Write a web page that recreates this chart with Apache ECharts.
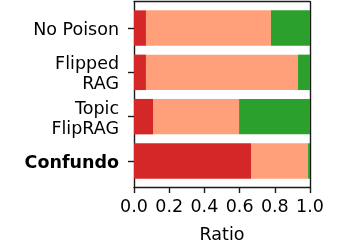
<!DOCTYPE html>
<html>
<head>
<meta charset="utf-8">
<script src="https://cdn.jsdelivr.net/npm/echarts@6/dist/echarts.min.js"></script>
<style>html,body{margin:0;padding:0;background:#fff;}#c{width:345px;height:243px;}</style>
</head>
<body>
<div id="c"></div>
<script>
const categories = ['No Poison', 'Flipped\nRAG', 'Topic\nFlipRAG', 'Confundo'];
const redValues = [0.068, 0.068, 0.108, 0.665];
const salmonValues = [0.710, 0.864, 0.489, 0.324];
const greenValues = [0.222, 0.068, 0.403, 0.011];
const xTickValues = [0.0, 0.2, 0.4, 0.6, 0.8, 1.0];
const xAxisName = 'Ratio';

const FONT = 'DejaVu Sans';
const FS = 17.5;
const SPINE = '#1a1a1a';
const LW = 1.4;

const chart = echarts.init(document.getElementById('c'), null, {renderer: 'canvas'});
chart.setOption({
  animation: false,
  backgroundColor: '#fff',
  textStyle: {fontFamily: FONT},
  grid: [
    {left: 134, right: 35, top: 5.9, height: 177.2, containLabel: false, outerBoundsMode: 'none'},
    {left: 134, right: 35, top: 1.7, bottom: 56, containLabel: false, outerBoundsMode: 'none'}
  ],
  xAxis: [
    {gridIndex: 0, type: 'value', min: 0, max: 1, show: false},
    {
      gridIndex: 1, type: 'value', min: 0, max: 1, interval: 0.2, position: 'bottom',
      axisLine: {show: true, onZero: false, lineStyle: {color: SPINE, width: LW}},
      axisTick: {show: true, length: 6, lineStyle: {color: SPINE, width: LW}},
      axisLabel: {show: true, margin: 11, fontSize: FS, fontFamily: FONT, color: '#000',
        formatter: v => (xTickValues.some(t => Math.abs(t - v) < 1e-9) ? v.toFixed(1) : '')},
      splitLine: {show: false},
      name: xAxisName, nameLocation: 'middle', nameGap: 48, nameMoveOverlap: false,
      nameTextStyle: {fontSize: FS, fontFamily: FONT, color: '#000', verticalAlign: 'middle'}
    },
    {
      gridIndex: 1, type: 'value', min: 0, max: 1, position: 'top',
      axisLine: {show: true, onZero: false, lineStyle: {color: SPINE, width: LW}},
      axisTick: {show: false}, axisLabel: {show: false}, splitLine: {show: false}
    }
  ],
  yAxis: [
    {
      gridIndex: 0, type: 'category', data: categories, inverse: true,
      axisLine: {show: false},
      axisTick: {show: true, alignWithLabel: true, length: 6, lineStyle: {color: SPINE, width: LW}},
      axisLabel: {
        show: true, margin: 15, fontSize: FS, fontFamily: FONT, color: '#000', lineHeight: 20,
        padding: [5, 0, 0, 0],
        formatter: v => (v === 'Confundo' ? '{b|' + v + '}' : v),
        rich: {b: {fontWeight: 'bold', fontSize: FS, fontFamily: FONT, color: '#000'}}
      },
      splitLine: {show: false}
    },
    {
      gridIndex: 1, type: 'value', min: 0, max: 1, position: 'left',
      axisLine: {show: true, onZero: false, lineStyle: {color: SPINE, width: LW}},
      axisTick: {show: false}, axisLabel: {show: false}, splitLine: {show: false}
    },
    {
      gridIndex: 1, type: 'value', min: 0, max: 1, position: 'right',
      axisLine: {show: true, onZero: false, lineStyle: {color: SPINE, width: LW}},
      axisTick: {show: false}, axisLabel: {show: false}, splitLine: {show: false}
    }
  ],
  series: [
    {type: 'bar', xAxisIndex: 0, yAxisIndex: 0, stack: 's', data: redValues, barWidth: '80%',
     itemStyle: {color: '#d62728'}, emphasis: {disabled: true}},
    {type: 'bar', xAxisIndex: 0, yAxisIndex: 0, stack: 's', data: salmonValues, barWidth: '80%',
     itemStyle: {color: '#ffa07a'}, emphasis: {disabled: true}},
    {type: 'bar', xAxisIndex: 0, yAxisIndex: 0, stack: 's', data: greenValues, barWidth: '80%',
     itemStyle: {color: '#2ca02c'}, emphasis: {disabled: true}}
  ]
});
</script>
</body>
</html>
